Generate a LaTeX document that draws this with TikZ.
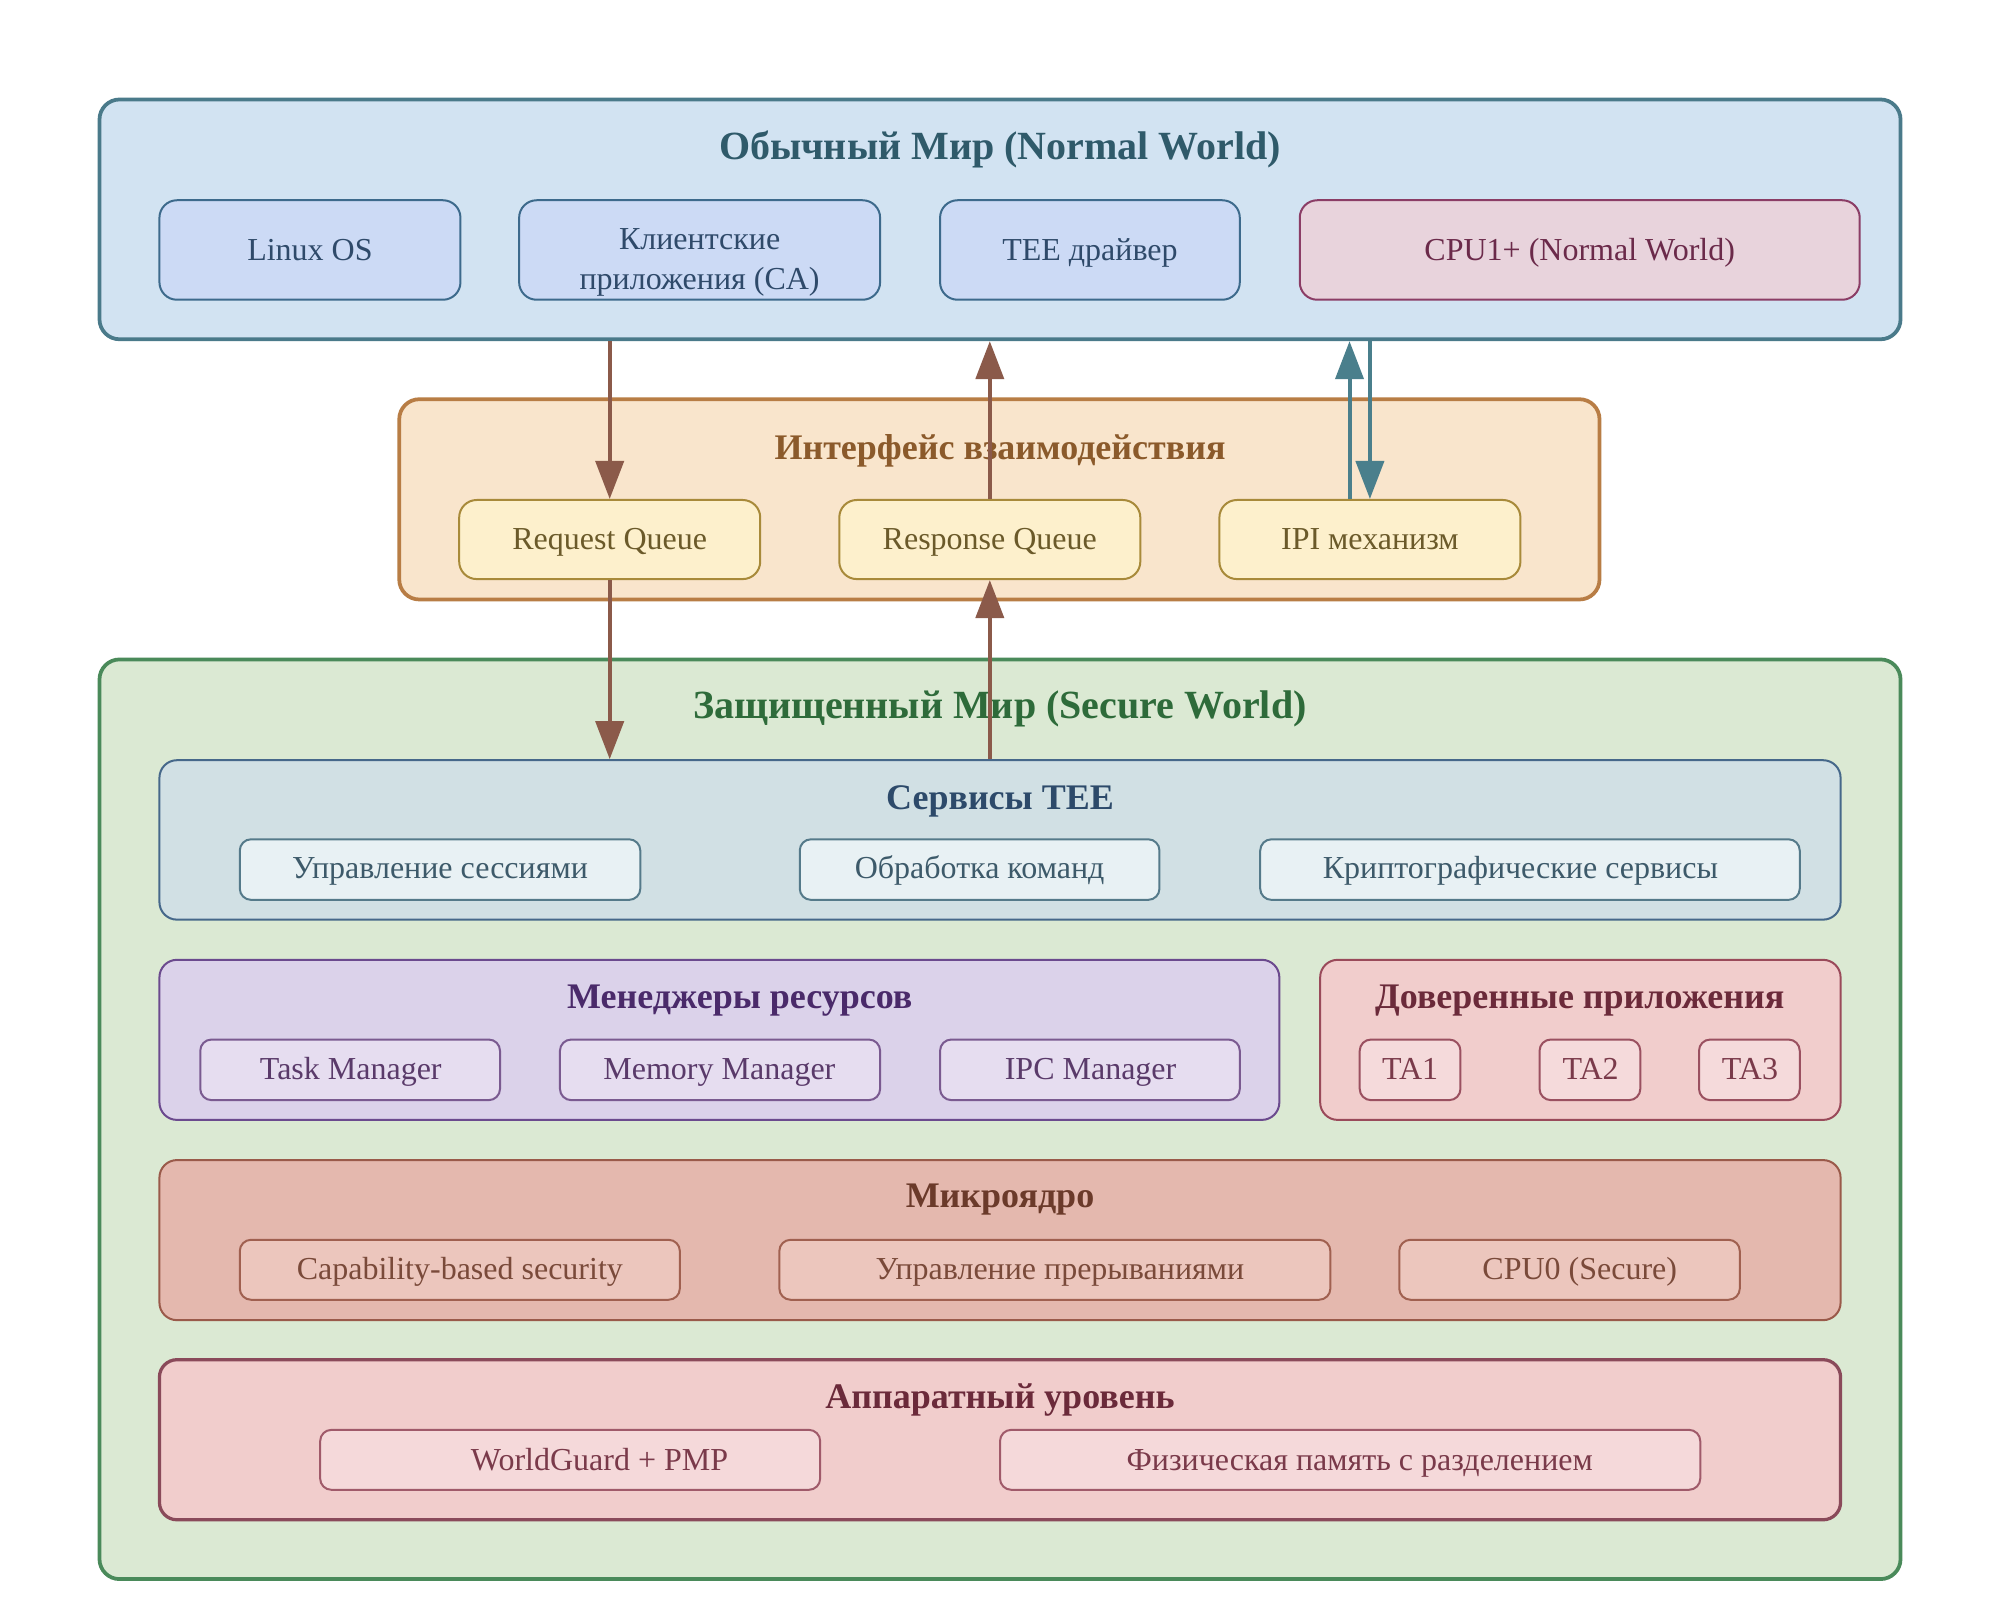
\documentclass[tikz,border=0pt]{standalone}
\usepackage{fontspec}
\setmainfont{Liberation Serif}
\usetikzlibrary{arrows.meta,fit}

\definecolor{nwFill}{HTML}{D2E3F2}
\definecolor{nwDraw}{HTML}{4A7A8A}
\definecolor{nwTitle}{HTML}{2F5A6A}
\definecolor{nwiFill}{HTML}{CCDAF5}
\definecolor{nwiDraw}{HTML}{3D6A8C}
\definecolor{nwiText}{HTML}{2F4A6A}
\definecolor{cpuFill}{HTML}{E8D3DC}
\definecolor{cpuDraw}{HTML}{8B3D66}
\definecolor{cpuText}{HTML}{6B2A4A}
\definecolor{ifFill}{HTML}{F9E5CC}
\definecolor{ifDraw}{HTML}{B87D45}
\definecolor{ifTitle}{HTML}{8B5A2B}
\definecolor{qFill}{HTML}{FDF0CC}
\definecolor{qDraw}{HTML}{A88A3A}
\definecolor{qText}{HTML}{6B5A2A}
\definecolor{arrBrown}{HTML}{8B5A4A}
\definecolor{arrTeal}{HTML}{4A7F8C}
\definecolor{swFill}{HTML}{DBE9D3}
\definecolor{swDraw}{HTML}{4A8A5A}
\definecolor{swTitle}{HTML}{2E6B3A}
\definecolor{svFill}{HTML}{D1E0E4}
\definecolor{svDraw}{HTML}{46688A}
\definecolor{svTitle}{HTML}{2D4A6A}
\definecolor{sviFill}{HTML}{E8F1F4}
\definecolor{sviDraw}{HTML}{557A8A}
\definecolor{sviText}{HTML}{3D5A6A}
\definecolor{rmFill}{HTML}{DBD2EA}
\definecolor{rmDraw}{HTML}{6B4A8E}
\definecolor{rmTitle}{HTML}{4A2A6A}
\definecolor{rmiFill}{HTML}{E6DDF0}
\definecolor{rmiDraw}{HTML}{7A5A90}
\definecolor{rmiText}{HTML}{5A3A6A}
\definecolor{taFill}{HTML}{F1CDCC}
\definecolor{taDraw}{HTML}{9A4A5A}
\definecolor{taTitle}{HTML}{6B2A3A}
\definecolor{taiFill}{HTML}{F5DADB}
\definecolor{taiDraw}{HTML}{9A5060}
\definecolor{taiText}{HTML}{7A3A4A}
\definecolor{mkFill}{HTML}{E4B8AE}
\definecolor{mkDraw}{HTML}{9A5A4A}
\definecolor{mkTitle}{HTML}{6B3A2A}
\definecolor{mkiFill}{HTML}{ECC6BD}
\definecolor{mkiDraw}{HTML}{A06050}
\definecolor{mkiText}{HTML}{7A4A3A}
\definecolor{hwFill}{HTML}{F1CDCC}
\definecolor{hwDraw}{HTML}{8A4A5A}
\definecolor{hwTitle}{HTML}{6B2A3A}
\definecolor{hwiFill}{HTML}{F5D9DA}
\definecolor{hwiDraw}{HTML}{A05A6A}
\definecolor{hwiText}{HTML}{7A3A4A}

\tikzset{
  outerbox/.style={draw, line width=1.5pt, rounded corners=8pt, inner sep=0pt},
  itembox/.style={draw, line width=0.8pt, rounded corners=7pt, inner sep=0pt},
  layerbox/.style={draw, line width=0.8pt, rounded corners=7pt, inner sep=0pt},
  sitembox/.style={draw, line width=0.8pt, rounded corners=4.5pt, inner sep=0pt},
  ttl/.style={font=\fontsize{16}{19}\selectfont\bfseries, anchor=base, inner sep=0pt},
  sttl/.style={font=\fontsize{14.4}{17}\selectfont\bfseries, anchor=base, inner sep=0pt},
  txt/.style={font=\fontsize{12.8}{15.8}\selectfont, anchor=base, inner sep=0pt},
  arr/.style={line width=1.6pt, -{Triangle[width=11.2pt,length=15.2pt]}},
}
\newcommand\mybox[6]{\node[#1, fit={(#3,#4) (#5,#6)}] (#2) {};}

\begin{document}
\begin{tikzpicture}[x=0.5102pt, y=-0.5102pt]
\fill[white] (0,0) rectangle (1568,1254.4);
\useasboundingbox (0,0) rectangle (1568,1254.4);

% Normal world
\mybox{outerbox, fill=nwFill, draw=nwDraw}{nw}{78}{78}{1490}{266}
\node[ttl, text=nwTitle] (nwt) at (784,125) {Обычный Мир (Normal World)};
\mybox{itembox, fill=nwiFill, draw=nwiDraw}{linux}{125}{157}{361}{235}
\mybox{itembox, fill=nwiFill, draw=nwiDraw}{ca}{407}{157}{690}{235}
\mybox{itembox, fill=nwiFill, draw=nwiDraw}{drv}{737}{157}{972}{235}
\mybox{itembox, fill=cpuFill, draw=cpuDraw}{cpu1}{1019}{157}{1458}{235}
\node[txt, text=nwiText] (linuxt) at (243,204.5) {Linux OS};
\node[txt, text=nwiText] (cat1) at (548.5,196) {Клиентские};
\node[txt, text=nwiText] (cat2) at (548.5,227) {приложения (CA)};
\node[txt, text=nwiText] (drvt) at (854.5,204.5) {TEE драйвер};
\node[txt, text=cpuText] (cpu1t) at (1238.5,204.5) {CPU1+ (Normal World)};

% Interface
\mybox{outerbox, fill=ifFill, draw=ifDraw}{ifc}{313}{313}{1254}{470}
\node[sttl, text=ifTitle] (ifct) at (784,360) {Интерфейс взаимодействия};
\mybox{itembox, fill=qFill, draw=qDraw}{rq}{360}{392}{596}{454}
\mybox{itembox, fill=qFill, draw=qDraw}{rsq}{658}{392}{894}{454}
\mybox{itembox, fill=qFill, draw=qDraw}{ipi}{956}{392}{1192}{454}
\node[txt, text=qText] (rqt) at (478,431) {Request Queue};
\node[txt, text=qText] (rsqt) at (776,431) {Response Queue};
\node[txt, text=qText] (ipit) at (1074,431) {IPI механизм};

% Secure world
\mybox{outerbox, fill=swFill, draw=swDraw}{sw}{78}{517}{1490}{1238}
\node[ttl, text=swTitle] (swt) at (784,563) {Защищенный Мир (Secure World)};

% TEE services
\mybox{layerbox, fill=svFill, draw=svDraw}{svc}{125}{596}{1443}{721}
\node[sttl, text=svTitle] (svct) at (784,634.5) {Сервисы TEE};
\mybox{sitembox, fill=sviFill, draw=sviDraw}{sess}{188}{658}{502}{705.5}
\mybox{sitembox, fill=sviFill, draw=sviDraw}{cmd}{627}{658}{909}{705.5}
\mybox{sitembox, fill=sviFill, draw=sviDraw}{crypt}{988}{658}{1411}{705.5}
\node[txt, text=sviText] (sesst) at (345,689) {Управление сессиями};
\node[txt, text=sviText] (cmdt) at (768,689) {Обработка команд};
\node[txt, text=sviText] (cryptt) at (1192,689) {Криптографические сервисы};

% Resource managers
\mybox{layerbox, fill=rmFill, draw=rmDraw}{rm}{125}{752.5}{1003}{878}
\node[sttl, text=rmTitle] (rmt) at (580,791) {Менеджеры ресурсов};
\mybox{sitembox, fill=rmiFill, draw=rmiDraw}{task}{157}{815}{392}{862.5}
\mybox{sitembox, fill=rmiFill, draw=rmiDraw}{mem}{439}{815}{690}{862.5}
\mybox{sitembox, fill=rmiFill, draw=rmiDraw}{ipc}{737}{815}{972}{862.5}
\node[txt, text=rmiText] (taskt) at (275,846) {Task Manager};
\node[txt, text=rmiText] (memt) at (564,846) {Memory Manager};
\node[txt, text=rmiText] (ipct) at (855,846) {IPC Manager};

% Trusted apps
\mybox{layerbox, fill=taFill, draw=taDraw}{ta}{1035}{752.5}{1443}{878}
\node[sttl, text=taTitle] (tat) at (1238.5,791) {Доверенные приложения};
\mybox{sitembox, fill=taiFill, draw=taiDraw}{ta1}{1066}{815}{1145}{862.5}
\mybox{sitembox, fill=taiFill, draw=taiDraw}{ta2}{1207}{815}{1286}{862.5}
\mybox{sitembox, fill=taiFill, draw=taiDraw}{ta3}{1332}{815}{1411}{862.5}
\node[txt, text=taiText] (ta1t) at (1105.5,846) {TA1};
\node[txt, text=taiText] (ta2t) at (1247,846) {TA2};
\node[txt, text=taiText] (ta3t) at (1372,846) {TA3};

% Microkernel
\mybox{layerbox, fill=mkFill, draw=mkDraw}{mk}{125}{909.5}{1443}{1035}
\node[sttl, text=mkTitle] (mkt) at (784,947) {Микроядро};
\mybox{sitembox, fill=mkiFill, draw=mkiDraw}{cap}{188}{972}{533}{1019}
\mybox{sitembox, fill=mkiFill, draw=mkiDraw}{irq}{611}{972}{1043}{1019}
\mybox{sitembox, fill=mkiFill, draw=mkiDraw}{cpu0}{1097}{972}{1364}{1019}
\node[txt, text=mkiText] (capt) at (360.5,1003) {Capability-based security};
\node[txt, text=mkiText] (irqt) at (831,1003) {Управление прерываниями};
\node[txt, text=mkiText] (cpu0t) at (1238.5,1003) {CPU0 (Secure)};

% Hardware
\mybox{layerbox, line width=1.3pt, fill=hwFill, draw=hwDraw}{hw}{125}{1066}{1443}{1191.5}
\node[sttl, text=hwTitle] (hwt) at (784,1104.5) {Аппаратный уровень};
\mybox{sitembox, fill=hwiFill, draw=hwiDraw}{wg}{251}{1121}{643}{1168}
\mybox{sitembox, fill=hwiFill, draw=hwiDraw}{phys}{784}{1121}{1333}{1168}
\node[txt, text=hwiText] (wgt) at (470,1152.5) {WorldGuard + PMP};
\node[txt, text=hwiText] (physt) at (1066,1152.5) {Физическая память с разделением};

% Arrows
\coordinate (ipiL) at ([xshift=-8.16pt]ipi.north);
\draw[arr, draw=arrBrown, fill=arrBrown] (nw.south -| rq.north) -- (rq.north);
\draw[arr, draw=arrBrown, fill=arrBrown] (rsq.north) -- (nw.south -| rsq.north);
\draw[arr, draw=arrTeal, fill=arrTeal] (ipiL) -- (ipiL |- nw.south);
\draw[arr, draw=arrTeal, fill=arrTeal] (nw.south -| ipi.north) -- (ipi.north);
\draw[arr, draw=arrBrown, fill=arrBrown] (rq.south) -- (rq.south |- svc.north);
\draw[arr, draw=arrBrown, fill=arrBrown] (svc.north -| rsq.south) -- (rsq.south);
\end{tikzpicture}
\end{document}
